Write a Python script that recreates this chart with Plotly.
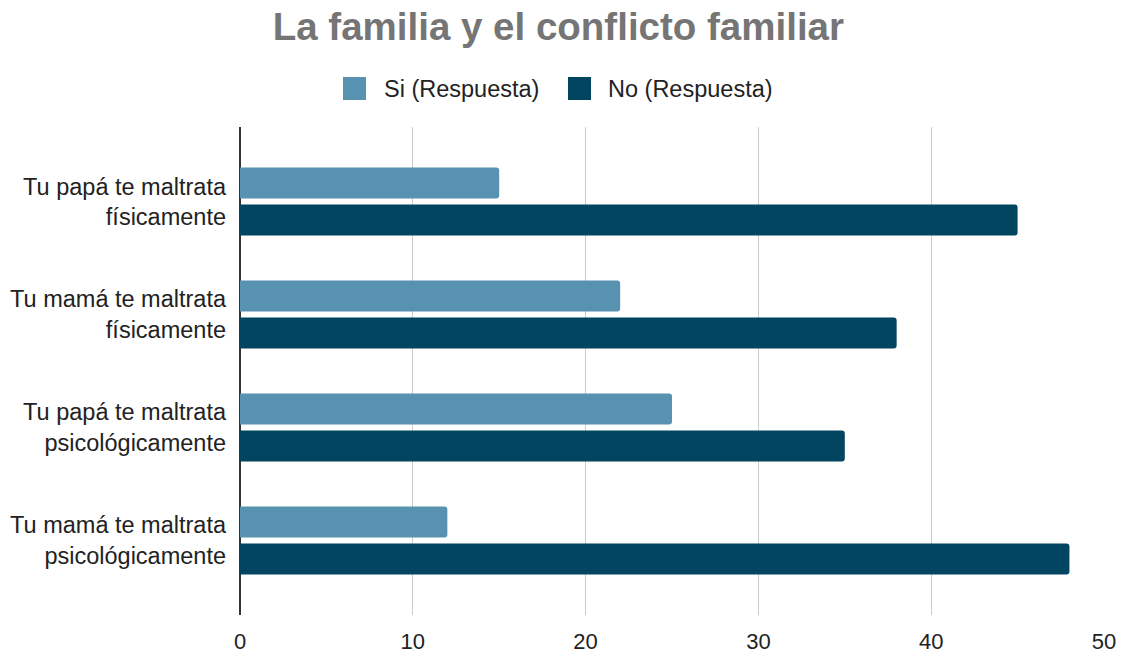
import plotly.graph_objects as go

categories = ["Tu papá te maltrata<br>físicamente", "Tu mamá te maltrata<br>físicamente",
              "Tu papá te maltrata<br>psicológicamente", "Tu mamá te maltrata<br>psicológicamente"]
series_names = ["Si (Respuesta)", "No (Respuesta)"]
si_values = [15, 22, 25, 12]
no_values = [45, 38, 35, 48]
x_ticks = [0, 10, 20, 30, 40, 50]
colors = ["#5792b0", "#014560"]

W, H = 1128, 655
L, R, T, B = 240, 24, 127, 40
PW, PH = W - L - R, H - T - B
FONT = "Liberation Sans"


def px_x(px):
    return (px - L) / PW


def px_y(py):
    return 1 - (py - T) / PH


fig = go.Figure()
for name, vals, col in zip(series_names, [si_values, no_values], colors):
    fig.add_trace(go.Bar(y=categories, x=vals, orientation="h", name=name,
                         marker=dict(color=col, line=dict(width=0)), showlegend=False,
                         hoverinfo="x+name"))

# manual legend (large square swatches like the reference)
legend_items = [(343, 382), (568, 606)]
shapes, annos = [], []
for (sq_x, tx), name, col in zip(legend_items, series_names, colors):
    shapes.append(dict(type="rect", xref="paper", yref="paper",
                       x0=px_x(sq_x), x1=px_x(sq_x + 23), y0=px_y(100), y1=px_y(77),
                       fillcolor=col, line=dict(width=0), layer="above"))
    annos.append(dict(text=name, xref="paper", yref="paper", x=px_x(tx), y=px_y(89),
                      xanchor="left", yanchor="middle", showarrow=False,
                      font=dict(family=FONT, size=23.5, color="#222222")))

fig.update_layout(
    width=W, height=H,
    paper_bgcolor="white", plot_bgcolor="white",
    margin=dict(l=L, r=R, t=T, b=B, autoexpand=False),
    barmode="group", bargap=0.345, bargroupgap=0.162, barcornerradius=3,
    font=dict(family=FONT, size=22, color="#222222"),
    title=dict(text="<b>La familia y el conflicto familiar</b>", x=0.495, xanchor="center",
               y=0.9588, yanchor="middle", xref="container", yref="container", automargin=False,
               font=dict(size=38.5, color="#757575", family=FONT)),
    showlegend=False,
    shapes=shapes, annotations=annos,
)
fig.update_xaxes(range=[0, 50], tickvals=x_ticks, showgrid=True, gridcolor="#cccccc", gridwidth=1,
                 zeroline=True, zerolinecolor="#333333", zerolinewidth=1.5, automargin=False,
                 showline=False, ticks="", ticklabelstandoff=11,
                 tickfont=dict(family=FONT, size=22, color="#222222"))
fig.update_yaxes(categoryorder="array", categoryarray=categories, range=[3.66, -0.66],
                 showgrid=False, zeroline=False, showline=False, ticks="", ticklabelstandoff=13,
                 automargin=False, tickfont=dict(family=FONT, size=23.5, color="#222222"))

fig.write_html("out.html", config={"displayModeBar": False},
               post_script="document.body.style.margin='0';document.body.style.overflow='hidden';")
